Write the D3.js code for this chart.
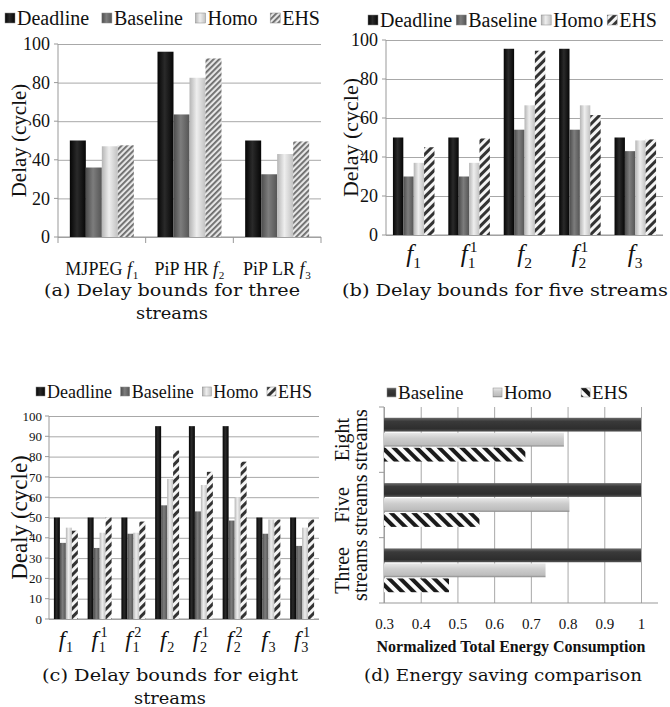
<!DOCTYPE html>
<html>
<head>
<meta charset="utf-8">
<script src="https://cdn.jsdelivr.net/npm/d3@7"></script>
<style>
body { margin: 0; background: #fff; }
svg text { font-family: "Liberation Serif", "Times New Roman", serif; fill: #111; }
svg text.cap { font-family: "DejaVu Serif", serif; }
</style>
</head>
<body>
<svg id="fig" width="670" height="707"></svg>
<script>
// series names
var seriesNames = ["Deadline", "Baseline", "Homo", "EHS"];

// (a) three streams
var catsA = ["MJPEG|1", "PiP HR|2", "PiP LR|3"];
var deadlineA = [50, 96, 50];
var baselineA = [36, 63.5, 32.5];
var homoA = [47, 82.5, 43];
var ehsA = [47.5, 92.5, 49.5];

// (b) five streams
var catsB = ["1", "1^1", "2", "2^1", "3"];
var deadlineB = [50, 50, 95.5, 95.5, 50];
var baselineB = [30, 30, 54, 54, 43];
var homoB = [37, 37, 66.5, 66.5, 48.5];
var ehsB = [45, 49.5, 94.5, 61.5, 49];

// (c) eight streams
var catsC = ["1", "1^1", "1^2", "2", "2^1", "2^2", "3", "3^1"];
var deadlineC = [50, 50, 50, 95, 95, 95, 50, 50];
var baselineC = [37.5, 35, 42, 56, 53, 48.5, 42, 36];
var homoC = [45, 42.5, 42.5, 69, 66, 60, 49, 45];
var ehsC = [43.5, 50, 48, 83, 72.5, 77.5, 49, 49];

// (d) energy
var seriesD = ["Baseline", "Homo", "EHS"];
var catsD = ["Eight|streams", "Five|streams", "Three|streams"];
var baselineD = [1, 1, 1];
var homoD = [0.79, 0.805, 0.74];
var ehsD = [0.685, 0.56, 0.477];
var ticksD = [0.3, 0.4, 0.5, 0.6, 0.7, 0.8, 0.9, 1];

var svg = d3.select("#fig");
var defs = svg.append("defs");

function grad(id, horiz, stops) {
	var lg = defs.append("linearGradient").attr("id", id)
		.attr("x1", 0).attr("y1", 0).attr("x2", horiz ? 1 : 0).attr("y2", horiz ? 0 : 1);
	stops.forEach(function(s) { lg.append("stop").attr("offset", s[0]).attr("stop-color", s[1]); });
}
function stripes(id, size, bg, fg, w, angle) {
	var p = defs.append("pattern").attr("id", id).attr("patternUnits", "userSpaceOnUse")
		.attr("width", size).attr("height", size).attr("patternTransform", "rotate(" + angle + ")");
	p.append("rect").attr("width", size).attr("height", size).attr("fill", bg);
	p.append("rect").attr("width", w).attr("height", size).attr("fill", fg);
}

grad("gDead", true, [[0, "#050505"], [0.45, "#2a2a2a"], [1, "#060606"]]);
grad("gBase", true, [[0, "#4c4c4c"], [0.45, "#7d7d7d"], [1, "#555"]]);
grad("gHomo", true, [[0, "#b5b5b5"], [0.45, "#eeeeee"], [1, "#c2c2c2"]]);
grad("gBaseD", false, [[0, "#6a6a6a"], [0.25, "#3a3a3a"], [0.8, "#2e2e2e"], [1, "#555"]]);
grad("gHomoD", false, [[0, "#e8e8e8"], [0.4, "#cdcdcd"], [0.85, "#bdbdbd"], [1, "#8a8a8a"]]);
stripes("pEhsA", 4, "#e6e6e6", "#6a6a6a", 1.8, 45);
stripes("pEhsB", 6, "#f4f4f4", "#333", 3, 45);
stripes("pEhsD", 8, "#fafafa", "#1a1a1a", 4, -45);

var fillsA = ["url(#gDead)", "url(#gBase)", "url(#gHomo)", "url(#pEhsA)"];
var fillsB = ["url(#gDead)", "url(#gBase)", "url(#gHomo)", "url(#pEhsB)"];
var fillsD = ["url(#gBaseD)", "url(#gHomoD)", "url(#pEhsD)"];

function legend(names, fills, x0, x1, y, size, sq) {
	var g = svg.append("g");
	var items = names.map(function(n, i) {
		var t = g.append("text").attr("y", y).style("font-size", size + "px").text(n);
		return { t: t, w: t.node().getComputedTextLength(), fill: fills[i] };
	});
	var total = d3.sum(items, function(d) { return d.w + sq + 2; });
	var gap = (x1 - x0 - total) / (items.length - 1);
	var x = x0;
	items.forEach(function(d) {
		g.append("rect").attr("x", x).attr("y", y - sq - 2).attr("width", sq).attr("height", sq)
			.attr("fill", d.fill).attr("stroke", "#888").attr("stroke-width", 0.5);
		d.t.attr("x", x + sq + 2);
		x += sq + 2 + d.w + gap;
	});
}

// category label such as "MJPEG f_1" or "f_1^2", built as one text element
function fLabel(cx, y, prefix, sub, sup, size) {
	var t = svg.append("text").attr("x", 0).attr("y", 0).style("font-size", size + "px");
	if (prefix) t.append("tspan").text(prefix);
	var f = t.append("tspan").style("font-style", "italic").text("f");
	if (prefix) f.attr("dx", size * 0.25);
	var b0 = t.node().getBBox();
	var xo = b0.x + b0.width;
	var ss = size * 0.62;
	if (sub) t.append("tspan").attr("x", xo - size * 0.12).attr("y", size * 0.22).style("font-size", ss + "px").text(sub);
	if (sup) t.append("tspan").attr("x", xo - size * 0.04).attr("y", -size * 0.42).style("font-size", ss + "px").text(sup);
	var bb = t.node().getBBox();
	t.attr("transform", "translate(" + (cx - bb.x - bb.width / 2) + "," + y + ")");
}

function columnPanel(o) {
	var g = svg.append("g");
	var x = d3.scaleBand().domain(o.cats).range([o.left, o.right]).paddingInner(o.pad).paddingOuter(o.pad / 2);
	var xs = d3.scaleBand().domain(seriesNames).range([0, x.bandwidth()]);
	var y = d3.scaleLinear().domain([0, 100]).range([o.bottom, o.top]);
	var ticks = d3.range(0, 101, o.step);

	var ax = g.append("g").attr("transform", "translate(" + o.left + ",0)")
		.call(d3.axisLeft(y).tickValues(ticks).tickSize(-(o.right - o.left)).tickPadding(o.labelPad));
	ax.select(".domain").remove();
	ax.selectAll(".tick line").attr("stroke", "#a8a8a8");
	ax.selectAll(".tick text").style("font-size", o.tickFont + "px").attr("fill", "#111")
		.style("font-family", "'Liberation Serif', serif");
	// small ticks left of the axis
	g.selectAll(null).data(ticks).enter().append("line")
		.attr("x1", o.left - 4).attr("x2", o.left).attr("y1", function(d) { return y(d); }).attr("y2", function(d) { return y(d); })
		.attr("stroke", "#999");
	g.append("line").attr("x1", o.left).attr("x2", o.left).attr("y1", o.top).attr("y2", o.bottom).attr("stroke", "#999");
	g.append("line").attr("x1", o.left).attr("x2", o.right).attr("y1", o.bottom).attr("y2", o.bottom).attr("stroke", "#999");
	if (o.catTicks) {
		var bounds = o.cats.map(function(c) { return x(c) - x.step() * x.paddingInner() / 2; });
		bounds.push(o.right);
		g.selectAll(null).data(bounds).enter().append("line")
			.attr("x1", function(d) { return d; }).attr("x2", function(d) { return d; })
			.attr("y1", o.bottom).attr("y2", o.bottom + 6).attr("stroke", "#999");
	}

	o.series.forEach(function(vals, si) {
		g.selectAll(null).data(vals).enter().append("rect")
			.attr("x", function(d, i) { return x(o.cats[i]) + xs(seriesNames[si]); })
			.attr("y", function(d) { return y(d); })
			.attr("width", xs.bandwidth())
			.attr("height", function(d) { return y(0) - y(d); })
			.attr("fill", o.fills[si]);
	});

	o.cats.forEach(function(c) {
		var parts = c.split("|");
		var prefix = parts.length > 1 ? parts[0] : null;
		var s = parts[parts.length - 1].split("^");
		fLabel(x(c) + x.bandwidth() / 2, o.labelY, prefix, s[0], s[1], o.labelFont);
	});

	svg.append("text").attr("transform", "translate(" + o.titleX + "," + (o.top + o.bottom) / 2 + ") rotate(-90)")
		.attr("text-anchor", "middle").attr("dy", "0.35em").style("font-size", o.titleFont + "px").text(o.title);
}

function caption(lines, cx, y0) {
	lines.forEach(function(l, i) {
		svg.append("text").attr("class", "cap").attr("x", cx).attr("y", y0 + i * 23)
			.attr("text-anchor", "middle").style("font-size", "16px")
			.attr("textLength", l[1]).attr("lengthAdjust", "spacingAndGlyphs").text(l[0]);
	});
}

// (a)
columnPanel({
	cats: catsA, series: [deadlineA, baselineA, homoA, ehsA], fills: fillsA,
	left: 58, right: 321, top: 44, bottom: 237, pad: 0.27, step: 20,
	labelPad: 8, tickFont: 18, labelY: 275, labelFont: 18, catTicks: true,
	title: "Delay (cycle)", titleX: 19, titleFont: 21
});
legend(seriesNames, fillsA, 5, 320, 25, 20, 10);
caption([["(a) Delay bounds for three", 256], ["streams", 72]], 172, 296);

// (b)
columnPanel({
	cats: catsB, series: [deadlineB, baselineB, homoB, ehsB], fills: fillsB,
	left: 386, right: 663, top: 40, bottom: 235, pad: 0.25, step: 20,
	labelPad: 8, tickFont: 18, labelY: 262, labelFont: 25, catTicks: false,
	title: "Delay (cycle)", titleX: 350, titleFont: 22
});
legend(seriesNames, fillsB, 368, 657, 27, 20, 10);
caption([["(b) Delay bounds for five streams", 326]], 505, 296);

// (c)
columnPanel({
	cats: catsC, series: [deadlineC, baselineC, homoC, ehsC], fills: fillsB,
	left: 49, right: 319, top: 416, bottom: 619, pad: 0.29, step: 10,
	labelPad: 7, tickFont: 13, labelY: 647, labelFont: 23, catTicks: false,
	title: "Dealy (cycle)", titleX: 19, titleFont: 23
});
legend(seriesNames, fillsB, 36, 312, 398, 18, 9);
caption([["(c) Delay bounds for eight", 256], ["streams", 72]], 170, 681);

// (d)
(function() {
	var g = svg.append("g");
	var left = 384, right = 641, axisEnd = 658, top = 407, bottom = 603;
	var x = d3.scaleLinear().domain([0.3, 1]).range([left, right]);
	var y = d3.scaleBand().domain(catsD).range([top, bottom]).paddingInner(0.33).paddingOuter(0.165);
	var ys = d3.scaleBand().domain(seriesD).range([0, y.bandwidth()]).paddingInner(0.08);

	var ax = g.append("g").attr("transform", "translate(0," + bottom + ")")
		.call(d3.axisBottom(x).tickValues(ticksD).tickSize(-(bottom - top)).tickPadding(15)
			.tickFormat(function(d) { return d === 1 ? "1" : d3.format(".1f")(d); }));
	ax.select(".domain").remove();
	ax.selectAll(".tick line").attr("stroke", "#a8a8a8");
	ax.selectAll(".tick text").style("font-size", "15px").attr("fill", "#111")
		.style("font-family", "'Liberation Serif', serif");
	g.append("line").attr("x1", left).attr("x2", axisEnd).attr("y1", bottom).attr("y2", bottom).attr("stroke", "#999");
	g.append("line").attr("x1", left).attr("x2", left).attr("y1", top).attr("y2", bottom).attr("stroke", "#999");
	var bounds = catsD.map(function(c) { return y(c) - y.step() * y.paddingInner() / 2; });
	bounds.push(bottom);
	g.selectAll(null).data(bounds).enter().append("line")
		.attr("x1", left - 5).attr("x2", left).attr("y1", function(d) { return d; }).attr("y2", function(d) { return d; })
		.attr("stroke", "#999");

	[baselineD, homoD, ehsD].forEach(function(vals, si) {
		g.selectAll(null).data(vals).enter().append("rect")
			.attr("x", left)
			.attr("y", function(d, i) { return y(catsD[i]) + ys(seriesD[si]); })
			.attr("width", function(d) { return x(d) - left; })
			.attr("height", ys.bandwidth())
			.attr("fill", fillsD[si]);
	});

	catsD.forEach(function(c) {
		var parts = c.split("|");
		var cy = y(c) + y.bandwidth() / 2;
		g.append("text").attr("transform", "translate(349," + cy + ") rotate(-90)")
			.attr("text-anchor", "middle").style("font-size", "20px").text(parts[0]);
		g.append("text").attr("transform", "translate(367," + cy + ") rotate(-90)")
			.attr("text-anchor", "middle").style("font-size", "20px").text(parts[1]);
	});

	g.append("text").attr("x", 511).attr("y", 652).attr("text-anchor", "middle")
		.style("font-size", "16px").style("font-weight", "bold").text("Normalized Total Energy Consumption");
})();
legend(seriesD, fillsD, 387, 628, 399, 19, 9);
caption([["(d) Energy saving comparison", 278]], 503, 681);
</script>
</body>
</html>
